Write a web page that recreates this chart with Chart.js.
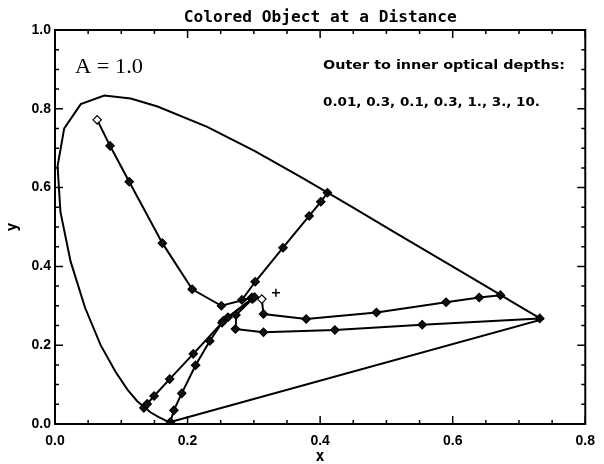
<!DOCTYPE html>
<html>
<head>
<meta charset="utf-8">
<script src="https://cdn.jsdelivr.net/npm/chart.js@4"></script>
<style>
  html, body { margin: 0; padding: 0; background: #fff; }
  #wrap { width: 604px; height: 464px; }
</style>
</head>
<body>
<div id="wrap"><canvas id="cie" width="604" height="464"></canvas></div>
<script>
// CIE 1931 spectral locus plus the purple line, closed back on its start
const locus = [
  [0.1741, 0.0050], [0.1733, 0.0048], [0.1714, 0.0051], [0.1644, 0.0109],
  [0.1566, 0.0177], [0.1440, 0.0297], [0.1241, 0.0578], [0.1096, 0.0868],
  [0.0913, 0.1327], [0.0687, 0.2007], [0.0454, 0.2950], [0.0235, 0.4127],
  [0.0082, 0.5384], [0.0039, 0.6548], [0.0139, 0.7502], [0.0389, 0.8120],
  [0.0743, 0.8338], [0.1142, 0.8262], [0.1547, 0.8059], [0.2296, 0.7543],
  [0.3016, 0.6923], [0.3731, 0.6245], [0.4441, 0.5547], [0.5125, 0.4866],
  [0.5752, 0.4242], [0.6270, 0.3725], [0.6658, 0.3340], [0.6915, 0.3083],
  [0.7190, 0.2809], [0.7347, 0.2653], [0.1741, 0.0050]
];

// Chromaticity paths of the object colour as optical depth grows
const greenPath = [[0.0636, 0.772], [0.083, 0.706], [0.112, 0.615], [0.162, 0.459], [0.207, 0.342], [0.251, 0.300], [0.301, 0.322]];
const yellowPath = [[0.411, 0.587], [0.401, 0.564], [0.3835, 0.528], [0.344, 0.4475], [0.302, 0.361], [0.282, 0.315], [0.297, 0.321]];
const redPathUpper = [[0.672, 0.327], [0.640, 0.321], [0.590, 0.309], [0.485, 0.283], [0.379, 0.2665], [0.3145, 0.279], [0.312, 0.317]];
const redPathLower = [[0.7313, 0.268], [0.554, 0.252], [0.4222, 0.2386], [0.3145, 0.2327], [0.2722, 0.241], [0.273, 0.2766], [0.299, 0.319]];
const bluePathLeft = [[0.134, 0.041], [0.139, 0.051], [0.1495, 0.071], [0.173, 0.114], [0.2086, 0.178], [0.252, 0.257], [0.261, 0.271], [0.298, 0.318]];
const bluePathRight = [[0.1741, 0.005], [0.1793, 0.0347], [0.1912, 0.0778], [0.2121, 0.149], [0.2335, 0.2107], [0.254, 0.262], [0.297, 0.318]];

// Equal-energy white point
const whitePoint = [[0.3333, 0.3333]];

// Points drawn as open diamonds: [path, index]
const openMarks = { green: [0], redUpper: [6] };

const xTickLabels = ['0.0', '0.2', '0.4', '0.6', '0.8'];
const yTickLabels = ['0.0', '0.2', '0.4', '0.6', '0.8', '1.0'];

const titleText = 'Colored Object at a Distance';
const noteHeader = 'Outer to inner optical depths:';
const noteDepths = '0.01, 0.3, 0.1, 0.3, 1., 3., 10.';
const albedoText = 'A = 1.0';

const toXY = arr => arr.map(p => ({ x: p[0], y: p[1] }));

function pathDataset(arr, openIdx) {
  const open = new Set(openIdx || []);
  return {
    data: toXY(arr),
    showLine: true,
    borderColor: '#000',
    borderWidth: 2,
    pointStyle: 'rectRot',
    pointRadius: 4.2,
    pointBorderWidth: 1.2,
    pointBorderColor: '#000',
    pointBackgroundColor: arr.map((_, i) => open.has(i) ? '#fff' : '#111'),
    tension: 0
  };
}

// Frame, inward ticks on all four sides, annotations and axis titles
const framePlugin = {
  id: 'frame',
  afterDraw(chart) {
    const { ctx, chartArea: a, scales } = chart;
    const xs = scales.x, ys = scales.y;
    ctx.save();
    ctx.strokeStyle = '#000';
    ctx.lineWidth = 2;
    ctx.strokeRect(a.left, a.top, a.right - a.left, a.bottom - a.top);
    ctx.lineWidth = 1.5;
    ctx.beginPath();
    for (let i = 0; i <= 16; i++) {
      const v = i * 0.05;
      const px = xs.getPixelForValue(v);
      const len = (i % 4 === 0) ? 8 : 4;
      ctx.moveTo(px, a.bottom); ctx.lineTo(px, a.bottom - len);
      ctx.moveTo(px, a.top); ctx.lineTo(px, a.top + len);
    }
    for (let i = 0; i <= 20; i++) {
      const v = i * 0.05;
      const py = ys.getPixelForValue(v);
      const len = (i % 4 === 0) ? 8 : 4;
      ctx.moveTo(a.left, py); ctx.lineTo(a.left + len, py);
      ctx.moveTo(a.right, py); ctx.lineTo(a.right - len, py);
    }
    ctx.stroke();

    ctx.fillStyle = '#000';
    ctx.textBaseline = 'middle';
    const fitText = (text, x, y, font, width, align) => {
      ctx.font = font;
      const w = ctx.measureText(text).width;
      const sx = width / w;
      ctx.save();
      ctx.translate(align === 'center' ? x - width / 2 : x, y);
      ctx.scale(sx, 1);
      ctx.textAlign = 'left';
      ctx.fillText(text, 0, 0);
      ctx.restore();
    };
    const cx = (a.left + a.right) / 2;
    const cy = (a.top + a.bottom) / 2;
    fitText(titleText, cx, 18, 'bold 16px "DejaVu Sans Mono"', 273, 'center');
    fitText(albedoText, 75, 67, '22px "Liberation Serif"', 68, 'left');
    fitText(noteHeader, 323, 66, 'bold 12px "DejaVu Sans"', 242, 'left');
    fitText(noteDepths, 323, 103, 'bold 12px "DejaVu Sans"', 217, 'left');

    ctx.font = 'bold 15px "DejaVu Sans Mono"';
    ctx.textAlign = 'center';
    ctx.fillText('x', cx, 457);
    ctx.save();
    ctx.translate(13, cy);
    ctx.rotate(-Math.PI / 2);
    ctx.fillText('y', 0, 0);
    ctx.restore();
    ctx.restore();
  }
};

const tickFont = { family: '"Liberation Sans", Arial, sans-serif', size: 14, weight: 'bold' };

new Chart(document.getElementById('cie'), {
  type: 'scatter',
  data: {
    datasets: [
      { data: toXY(locus), showLine: true, borderColor: '#000', borderWidth: 2, pointRadius: 0, tension: 0 },
      pathDataset(greenPath, openMarks.green),
      pathDataset(yellowPath),
      pathDataset(redPathUpper, openMarks.redUpper),
      pathDataset(redPathLower),
      pathDataset(bluePathLeft),
      pathDataset(bluePathRight),
      { data: toXY(whitePoint), showLine: false, pointStyle: 'cross', pointRadius: 4, pointBorderWidth: 1.5, pointBorderColor: '#000' }
    ]
  },
  options: {
    responsive: false,
    animation: false,
    layout: { padding: { top: 30, right: 12, left: 0, bottom: 0 } },
    plugins: { legend: { display: false }, tooltip: { enabled: false }, title: { display: false } },
    scales: {
      x: {
        type: 'linear', min: 0, max: 0.8,
        grid: { display: false, drawTicks: false },
        border: { display: false },
        afterBuildTicks: s => { s.ticks = xTickLabels.map(t => ({ value: parseFloat(t) })); },
        afterFit: s => { s.height = 40; },
        ticks: { color: '#000', font: tickFont, padding: 9, maxRotation: 0, autoSkip: false,
                 callback: (v, i) => xTickLabels[i] }
      },
      y: {
        type: 'linear', min: 0, max: 1.0,
        grid: { display: false, drawTicks: false },
        border: { display: false },
        afterBuildTicks: s => { s.ticks = yTickLabels.map(t => ({ value: parseFloat(t) })); },
        afterFit: s => { s.width = 55; },
        ticks: { color: '#000', font: tickFont, padding: 4, autoSkip: false,
                 callback: (v, i) => yTickLabels[i] }
      }
    }
  },
  plugins: [framePlugin]
});
</script>
</body>
</html>
